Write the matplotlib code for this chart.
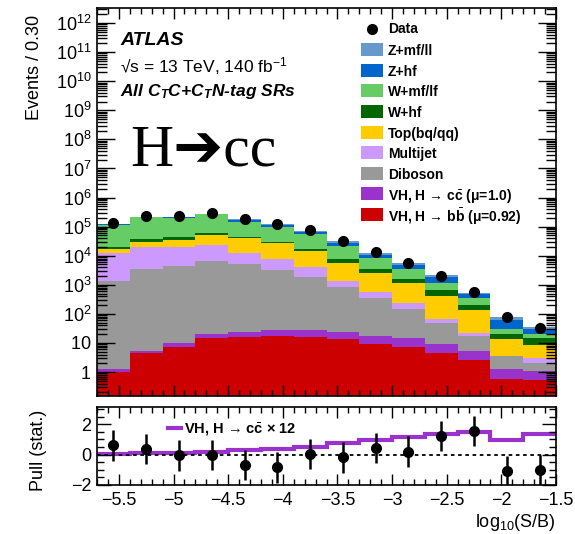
import numpy as np
import matplotlib.pyplot as plt
from matplotlib.ticker import MultipleLocator, LogLocator, FuncFormatter, NullFormatter
from matplotlib.patches import Rectangle

plt.rcParams['font.family'] = ['Liberation Sans', 'DejaVu Sans']
plt.rcParams['mathtext.fontset'] = 'custom'
plt.rcParams['mathtext.rm'] = 'Liberation Sans'
plt.rcParams['mathtext.it'] = 'Liberation Sans:bold:italic'
plt.rcParams['mathtext.bf'] = 'Liberation Sans:bold'

# log10(S/B) binning, 14 bins of 0.30
edges = np.round(np.arange(-5.7, -1.49, 0.3), 2)
centers = 0.5 * (edges[:-1] + edges[1:])

# post-fit yields per bin, stacked from the bottom up
vh_bb = [1.0, 4.4, 7.4, 14.4, 16.3, 17, 16.5, 13.3, 9.2, 7.1, 4.4, 2.6, 0.56, 0.55]
vh_cc = [0.3, 1.0, 2.3, 5.6, 7.7, 11, 12.5, 10.7, 7.8, 7.3, 4.8, 2.8, 0.68, 0.55]
diboson = [1380, 3390, 4440, 6680, 5380, 3170, 1770, 836, 323, 130, 41, 11.6, 2.3, 1.0]
multijet = [10600, 16000, 15950, 16600, 6600, 4400, 2200, 520, 210, 86, 15, 5, 0.1, 0.9]
top = [4600, 10600, 15600, 27700, 28000, 19400, 10800, 4320, 1910, 890, 345, 113, 9.7, 5.5]
w_hf = [3800, 7000, 8500, 11000, 5000, 3000, 1800, 1900, 940, 420, 250, 65, 7.7, 5.9]
w_lf = [97600, 175000, 155500, 200000, 103000, 65000, 39400, 13900, 4700, 1860, 460, 140, 8.5, 5.6]
z_hf = [3000, 4000, 10000, 8000, 22000, 17000, 10000, 6500, 2900, 1300, 730, 130, 31.5, 9.5]
z_lf = [4000, 4000, 10000, 8000, 16000, 11000, 6000, 5000, 1600, 800, 320, 65, 19, 6.5]

data = [130000, 230000, 230000, 285000, 182000, 123000, 76000, 33000, 13000, 5700, 2000, 575, 76, 32]

# pull panel
pull = [0.6, 0.38, -0.05, -0.02, -0.69, -0.84, 0.05, -0.18, 0.45, 0.2, 1.22, 1.55, -1.07, -1.0]
cc_x12 = [0.07, 0.09, 0.13, 0.18, 0.27, 0.36, 0.49, 0.75, 0.93, 1.15, 1.33, 1.49, 0.98, 1.38]

samples = [
    (vh_bb, '#CC0000', r'VH, H → b$\bar{\mathbf{b}}$ (μ=0.92)'),
    (vh_cc, '#9933CC', r'VH, H → c$\bar{\mathbf{c}}$ (μ=1.0)'),
    (diboson, '#999999', 'Diboson'),
    (multijet, '#CC99FF', 'Multijet'),
    (top, '#FFCC00', 'Top(bq/qq)'),
    (w_hf, '#006600', 'W+hf'),
    (w_lf, '#66CC66', 'W+mf/lf'),
    (z_hf, '#0066CC', 'Z+hf'),
    (z_lf, '#6699CC', 'Z+mf/ll'),
]

W, H = 575, 534
fig = plt.figure(figsize=(W / 100, H / 100), dpi=100)
ax = fig.add_axes([0.1687, 0.2584, 0.7983, 0.7266])
ax2 = fig.add_axes([0.1687, 0.0918, 0.7983, 0.1451])

base = np.full(len(centers), 1e-3)
for vals, col, lab in samples:
    tops = base + np.array(vals)
    ax.stairs(tops, edges, baseline=base, fill=True, color=col, lw=0)
    base = tops

ax.plot(centers, data, 'o', color='k', ms=7)

ax.set_yscale('log')
ax.set_xlim(-5.7, -1.5)
ax.set_ylim(0.15, 3.3e12)


def log_label(v, pos):
    if v == 1:
        return r'$\mathdefault{1}$'
    if v == 10:
        return r'$\mathdefault{10}$'
    return r'$\mathdefault{10^{%d}}$' % round(np.log10(v))


ax.yaxis.set_major_locator(LogLocator(base=10, numticks=30))
ax.yaxis.set_minor_locator(LogLocator(base=10, subs=np.arange(2, 10), numticks=300))
ax.yaxis.set_major_formatter(FuncFormatter(log_label))
ax.yaxis.set_minor_formatter(NullFormatter())
ax.xaxis.set_major_locator(MultipleLocator(0.5))
ax.xaxis.set_minor_locator(MultipleLocator(0.1))
ax.tick_params(which='both', direction='in', top=True, right=True, labelbottom=False,
               labelsize=13, width=1.0, pad=4)
ax.tick_params(axis='y', which='major', length=13)
ax.tick_params(axis='y', which='minor', length=7)
ax.tick_params(axis='x', which='major', length=8)
ax.tick_params(axis='x', which='minor', length=4)
for s in ax.spines.values():
    s.set_linewidth(1.2)

ax.set_ylabel('Events / 0.30', fontsize=13, loc='top')
ax.yaxis.set_label_coords(-0.118, 0.982)

ax.text(0.05, 0.905, 'ATLAS', transform=ax.transAxes, fontsize=14,
        fontweight='bold', fontstyle='italic')
ax.text(0.05, 0.835, r'√s = 13 TeV, 140 fb$^{-1}$', transform=ax.transAxes, fontsize=12.5)
ax.text(0.05, 0.772, r'All C$_T$C+C$_T$N-tag SRs', transform=ax.transAxes, fontsize=12.5,
        fontweight='bold', fontstyle='italic')
ax.text(0.072, 0.595, 'H➔cc', transform=ax.transAxes, fontsize=43,
        family=['Liberation Serif', 'DejaVu Sans'])

# legend drawn entry by entry so every row has the same spacing
ax_x0, ax_w, ax_top, ax_h = 97, 459, 8, 388


def to_axes(px, py):
    return (px - ax_x0) / ax_w, 1 - (py - ax_top) / ax_h


row0, drow = 29, 20.6
hx0, hx1, hh = 361, 383, 13
mx, my = to_axes(0.5 * (hx0 + hx1), row0)
ax.plot([mx], [my], 'o', color='k', ms=7, transform=ax.transAxes, clip_on=False)
tx, ty = to_axes(388, row0)
ax.text(tx, ty, 'Data', transform=ax.transAxes, fontsize=10, fontweight='bold', va='center')
for i, (vals, col, lab) in enumerate(samples[::-1], start=1):
    yc = row0 + i * drow
    px, py = to_axes(hx0, yc + hh / 2)
    ax.add_patch(Rectangle((px, py), (hx1 - hx0) / ax_w, hh / ax_h, transform=ax.transAxes,
                           facecolor=col, edgecolor='none'))
    tx, ty = to_axes(388, yc)
    ax.text(tx, ty, lab, transform=ax.transAxes, fontsize=10, fontweight='bold', va='center_baseline')

# pull panel
ax2.stairs(cc_x12, edges, color='#9933CC', lw=3, baseline=None,
           label=r'VH, H → c$\bar{\mathbf{c}}$ × 12')
ax2.axhline(0, color='k', ls=(0, (2, 2)), lw=1.3)
ax2.errorbar(centers, pull, yerr=1, fmt='o', color='k', ms=7, elinewidth=1.8, capsize=0)
ax2.set_xlim(-5.7, -1.5)
ax2.set_ylim(-2, 3.1)
ax2.xaxis.set_major_locator(MultipleLocator(0.5))
ax2.xaxis.set_minor_locator(MultipleLocator(0.1))
ax2.yaxis.set_major_locator(MultipleLocator(2))
ax2.yaxis.set_minor_locator(MultipleLocator(0.5))
ax2.xaxis.set_major_formatter(FuncFormatter(lambda v, p: ('%g' % v).replace('-', '−')))
ax2.yaxis.set_major_formatter(FuncFormatter(lambda v, p: ('%g' % v).replace('-', '−')))
ax2.tick_params(which='both', direction='in', top=True, right=True, labelsize=13, width=1.0)
ax2.tick_params(axis='x', which='major', length=8, pad=5)
ax2.tick_params(axis='x', which='minor', length=4)
ax2.tick_params(axis='y', which='major', length=10, pad=4)
ax2.tick_params(axis='y', which='minor', length=5)
for s in ax2.spines.values():
    s.set_linewidth(1.2)
ax2.set_ylabel('Pull (stat.)', fontsize=13)
ax2.yaxis.set_label_coords(-0.108, 0.45)
ax2.set_xlabel(r'log$_{10}$(S/B)', fontsize=13, loc='right', labelpad=2)
ax2.legend(loc='center left', bbox_to_anchor=(0.155, 0.72), frameon=False,
           prop={'weight': 'bold', 'size': 10.5}, borderpad=0, borderaxespad=0,
           handlelength=0.9, handletextpad=0.2)

fig.savefig('out.png', dpi=100)
